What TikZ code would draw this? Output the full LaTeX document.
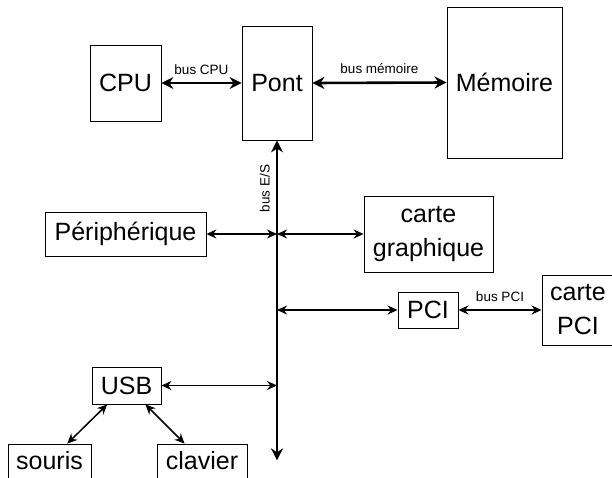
\documentclass[tikz,border=0pt]{standalone}
\usepackage{fontspec}
\setmainfont{Liberation Sans}
\usetikzlibrary{arrows.meta,positioning,calc}

\begin{document}
\begin{tikzpicture}[
        x=1pt, y=-1pt,
        font=\fontsize{25}{34}\selectfont,
        box/.style={draw,line width=0.8pt,inner sep=0pt,align=center},
        bus/.style={{Stealth[length=12pt,width=12pt]}-{Stealth[length=12pt,width=12pt]},line width=2.6pt},
        link/.style={{Stealth[length=10pt,width=9pt]}-{Stealth[length=10pt,width=9pt]},line width=1.5pt},
        buslabel/.style={font=\fontsize{13.5}{16}\selectfont}
    ]
    \useasboundingbox (0,0) rectangle (612,477);
    \clip (0,0) rectangle (612,477);

    \node[box, minimum width=71pt, minimum height=76pt] (cpu) at (125.5,83) {CPU};
    \node[box, minimum width=70pt, minimum height=114pt] (pont) at (277,83) {Pont};
    \node[box, minimum width=115pt, minimum height=151pt] (mem) at (504.5,82.5) {Mémoire};
    \node[box, minimum width=161pt, minimum height=44pt] (peri) at (125.5,234) {Périphérique};
    \node[box, minimum width=129pt, minimum height=76pt] (graph) at (428.5,234) {carte\\graphique};
    \node[box, minimum width=60pt, minimum height=36pt] (pci) at (428,310) {PCI};
    \node[box, minimum width=72pt, minimum height=70pt] (cpci) at (578,310) {carte\\PCI};
    \node[box, minimum width=69pt, minimum height=37pt] (usb) at (126.5,385.5) {USB};
    \node[box, minimum width=83pt, minimum height=34pt] (souris) at (49.5,461) {souris};
    \node[box, minimum width=90pt, minimum height=34pt] (clavier) at (202,461) {clavier};

    % bus E/S
    \coordinate (esT) at (pont.south);
    \coordinate (esB) at ($(pont.south)+(0,320)$);

    \draw[bus] (cpu.east) -- node[above=4pt, buslabel]{bus CPU} (pont.west);
    \draw[bus] (pont.east) -- node[above=4pt, buslabel]{bus mémoire} (mem.west);
    \draw[bus] (esT) -- node[pos=0.15, rotate=90, anchor=south, inner sep=6pt, buslabel]{bus E/S} (esB);

    \draw[link] (peri.east) -- (peri.east -| esT);
    \draw[link] (graph.west -| esT) -- (graph.west);
    \draw[link] (pci.west -| esT) -- (pci.west);
    \draw[link] (pci.east) -- node[above=4pt, buslabel]{bus PCI} (cpci.west);
    \draw[link] (usb.east) -- (usb.east -| esT);
    \draw[link] (usb) -- (souris);
    \draw[link] (usb) -- (clavier);
\end{tikzpicture}
\end{document}
